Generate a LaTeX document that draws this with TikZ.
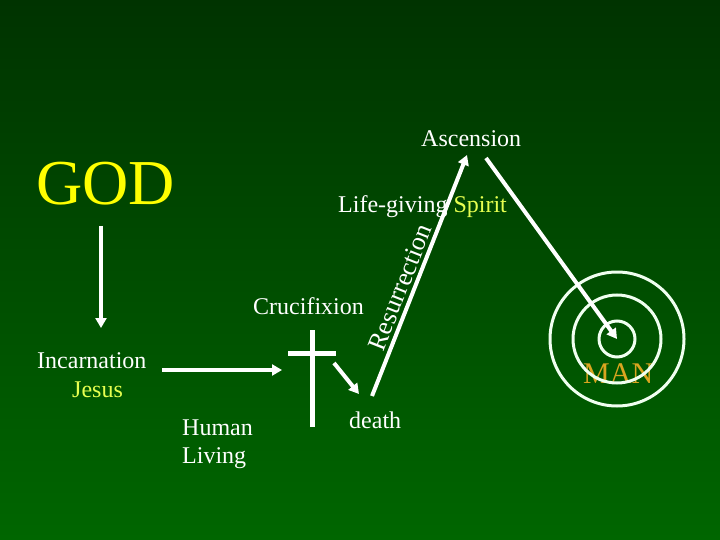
\documentclass[tikz,border=0pt]{standalone}
\usepackage{fontspec}
\setmainfont{Liberation Serif}
\usetikzlibrary{arrows.meta}
\definecolor{bgtop}{RGB}{0,51,0}
\definecolor{bgbot}{RGB}{0,102,0}
\definecolor{godyellow}{RGB}{255,255,0}
\definecolor{paleyellow}{RGB}{230,255,80}
\definecolor{mangold}{RGB}{218,165,32}
\definecolor{ringwhite}{RGB}{240,255,240}

\begin{document}
\begin{tikzpicture}[x=1pt,y=-1pt,
    txt/.style={inner sep=0pt,anchor=base west,text=white,font=\fontsize{24}{28}\selectfont},
    arr/.style={draw=white,line width=4pt,-{Triangle[length=10pt,width=11pt]}},
    ring/.style={draw=ringwhite,line width=3pt}]
                \shade[top color=bgtop,bottom color=bgbot] (0,0) rectangle (720,540);
                \useasboundingbox (0,0) rectangle (720,540);
                % texts
                \node[txt,text=godyellow,font=\fontsize{64}{64}\selectfont] (god) at (36,205) {GOD};
                \node[txt] (asc) at (421,147) {Ascension};
                \node[txt] (life) at (338,212) {Life-giving \textcolor{paleyellow}{Spirit}};
                \node[txt] (cruc) at (253,314) {Crucifixion};
                \node[txt] (inc) at (37,368) {Incarnation};
                \node[txt,text=paleyellow] (jesus) at (72,397) {Jesus};
                \node[txt] (human) at (182,435) {Human};
                \node[txt] (living) at (182,463) {Living};
                \node[txt] (death) at (349,428) {death};
                \node[txt,text=mangold,font=\fontsize{30}{30}\selectfont] (man) at (583,383) {MAN};
                % end points
                \coordinate (godtop) at (101,226);
                \coordinate (godtip) at (101,328);
                \coordinate (livfrom) at (162,370);
                \coordinate (livto) at (282,370);
                \coordinate (crosstop) at (312,330);
                \coordinate (crossfoot) at (312,427);
                \coordinate (barl) at (288,353);
                \coordinate (barr) at (336,353);
                \coordinate (dfrom) at (334,363);
                \coordinate (dto) at (359,394);
                \coordinate (rfrom) at (372,396);
                \coordinate (rto) at (467,155);
                \coordinate (afrom) at (486,158);
                \coordinate (mancentre) at (617,339);
                % circles round man
                \draw[ring] (mancentre) circle (18);
                \draw[ring] (mancentre) circle (44);
                \draw[ring] (mancentre) circle (67);
                % cross
                \draw[white,line width=5pt] (crosstop) -- (crossfoot)
                                            (barl) -- (barr);
                % arrows
                \draw[arr] (godtop) -- (godtip);
                \draw[arr] (livfrom) -- (livto);
                \draw[arr] (dfrom) -- (dto);
                \draw[arr] (rfrom) -- node[sloped,above,pos=0.43,inner sep=3pt,text=white,
                    font=\fontsize{26}{30}\selectfont] (resur) {Resurrection} (rto);
                \draw[arr] (afrom) -- (mancentre);
\end{tikzpicture}
\end{document}
